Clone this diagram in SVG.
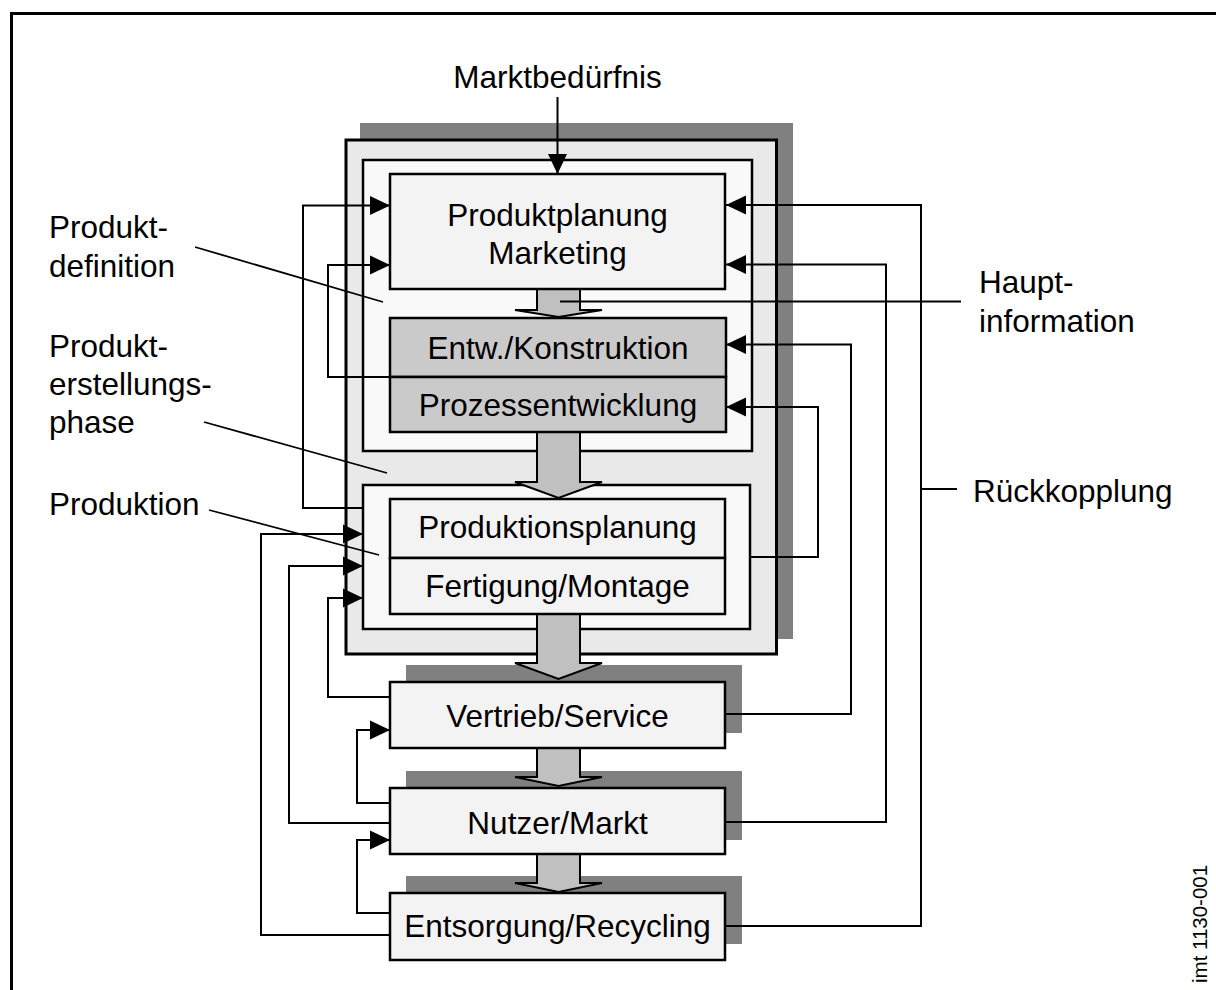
<svg xmlns="http://www.w3.org/2000/svg" width="1216" height="990" viewBox="0 0 1216 990">
  <style>
    .txt { font-family: "Liberation Sans", Arial, sans-serif; font-size: 31.5px; fill: #000; }
    .mid { text-anchor: middle; }
    .box { stroke: #000; stroke-width: 2.5; }
    .proc { fill: #f3f3f3; }
    .dev { fill: #cacaca; }
    .phase { fill: #f9f9f9; }
    .outer { fill: #e9e9e9; stroke: #000; stroke-width: 3; }
    .shadow { fill: #808080; }
    .flow { fill: #c0c0c0; stroke: #000; stroke-width: 2; stroke-linejoin: miter; }
    .conn { fill: none; stroke: #000; stroke-width: 2; }
    .lead { fill: none; stroke: #000; stroke-width: 1.8; }
  </style>
  <defs>
    <marker id="ah" markerUnits="userSpaceOnUse" markerWidth="20" markerHeight="20" refX="20" refY="10" orient="auto">
      <path d="M0,0.5 L20,10 L0,19.5 Z" fill="#000"/>
    </marker>
  </defs>

  <rect width="1216" height="990" fill="#fff"/>
  <!-- frame (open to the right and bottom) -->
  <path d="M11.5,990 V13.5 H1216" fill="none" stroke="#000" stroke-width="3"/>

  <!-- product creation phase container -->
  <g id="erstellungsphase">
    <rect class="shadow" x="360" y="123" width="433" height="516"/>
    <rect class="outer" x="346" y="140" width="430.5" height="514"/>
  </g>
  <g id="produktdefinition">
    <rect class="box phase" x="363" y="160" width="389" height="291"/>
  </g>
  <g id="produktion">
    <rect class="box phase" x="363" y="485" width="387" height="144"/>
  </g>

  <!-- shadows of the lower stages -->
  <rect class="shadow" x="406" y="665" width="336" height="68"/>
  <rect class="shadow" x="406" y="771" width="336" height="69"/>
  <rect class="shadow" x="406" y="876" width="336" height="68"/>

  <!-- main information flow -->
  <g id="hauptfluss">
    <path class="flow" d="M537,289 V310 H515 L558.5,317 L602,310 H580 V289"/>
    <path class="flow" d="M537,432 V482 H515 L558.5,498 L602,482 H580 V432"/>
    <path class="flow" d="M537,614 V663 H515 L558.5,679 L602,663 H580 V614"/>
    <path class="flow" d="M537,748 V777 H515 L558.5,786 L602,777 H580 V748"/>
    <path class="flow" d="M537,854 V883 H515 L558.5,892 L602,883 H580 V854"/>
  </g>

  <g id="produktplanung">
    <rect class="box proc" x="390" y="174" width="335" height="115"/>
    <text class="txt mid" x="557.5" y="226">Produktplanung</text>
    <text class="txt mid" x="557.5" y="264">Marketing</text>
  </g>
  <g id="entwicklung">
    <rect class="box dev" x="390" y="318" width="336" height="59"/>
    <text class="txt mid" x="558" y="359">Entw./Konstruktion</text>
  </g>
  <g id="prozessentwicklung">
    <rect class="box dev" x="390" y="377" width="336" height="55"/>
    <text class="txt mid" x="558" y="416">Prozessentwicklung</text>
  </g>
  <g id="produktionsplanung">
    <rect class="box proc" x="390" y="499" width="335" height="59"/>
    <text class="txt mid" x="557.5" y="538">Produktionsplanung</text>
  </g>
  <g id="fertigung">
    <rect class="box proc" x="390" y="558" width="335" height="56"/>
    <text class="txt mid" x="557.5" y="597">Fertigung/Montage</text>
  </g>
  <g id="vertrieb">
    <rect class="box proc" x="390" y="682" width="335" height="66"/>
    <text class="txt mid" x="557.5" y="727">Vertrieb/Service</text>
  </g>
  <g id="nutzer">
    <rect class="box proc" x="390" y="788" width="335" height="66"/>
    <text class="txt mid" x="557.5" y="834">Nutzer/Markt</text>
  </g>
  <g id="entsorgung">
    <rect class="box proc" x="390" y="893" width="335" height="67"/>
    <text class="txt mid" x="557.5" y="937">Entsorgung/Recycling</text>
  </g>

  <!-- feedback connectors -->
  <g id="connectors">
    <!-- market need -->
    <path class="conn" d="M557.5,97 V174" marker-end="url(#ah)"/>
    <!-- left side -->
    <path class="conn" d="M363,508 H303 V205.5 H390" marker-end="url(#ah)"/>
    <path class="conn" d="M390,377 H328 V265 H390" marker-end="url(#ah)"/>
    <path class="conn" d="M390,935 H261 V534 H363" marker-end="url(#ah)"/>
    <path class="conn" d="M390,823 H289 V566 H363" marker-end="url(#ah)"/>
    <path class="conn" d="M390,697 H328 V598 H363" marker-end="url(#ah)"/>
    <path class="conn" d="M390,803 H357 V730 H390" marker-end="url(#ah)"/>
    <path class="conn" d="M390,913 H357 V840 H390" marker-end="url(#ah)"/>
    <!-- right side -->
    <path class="conn" d="M725,926 H921 V205 H726" marker-end="url(#ah)"/>
    <path class="conn" d="M725,822 H886 V264.5 H726" marker-end="url(#ah)"/>
    <path class="conn" d="M725,714 H851 V344.5 H726" marker-end="url(#ah)"/>
    <path class="conn" d="M750,557 H818 V407 H726" marker-end="url(#ah)"/>
  </g>

  <!-- annotations -->
  <g id="labels">
    <text class="txt mid" x="557.5" y="88">Marktbedürfnis</text>

    <text class="txt" x="49" y="238">Produkt-</text>
    <text class="txt" x="49" y="277">definition</text>
    <path class="lead" d="M195,247 L383,302"/>

    <text class="txt" x="49" y="357">Produkt-</text>
    <text class="txt" x="49" y="395">erstellungs-</text>
    <text class="txt" x="49" y="433">phase</text>
    <path class="lead" d="M204,422 L387,473"/>

    <text class="txt" x="49" y="515">Produktion</text>
    <path class="lead" d="M209,510 L379,555"/>

    <text class="txt" x="979" y="293">Haupt-</text>
    <text class="txt" x="979" y="332">information</text>
    <path class="lead" d="M560,301.5 H961"/>

    <text class="txt" x="973" y="502">Rückkopplung</text>
    <path class="lead" d="M921,489 H957"/>

    <text class="txt" x="0" y="0" style="font-size:20.5px" transform="translate(1207,983) rotate(-90)">imt 1130-001</text>
  </g>
</svg>
